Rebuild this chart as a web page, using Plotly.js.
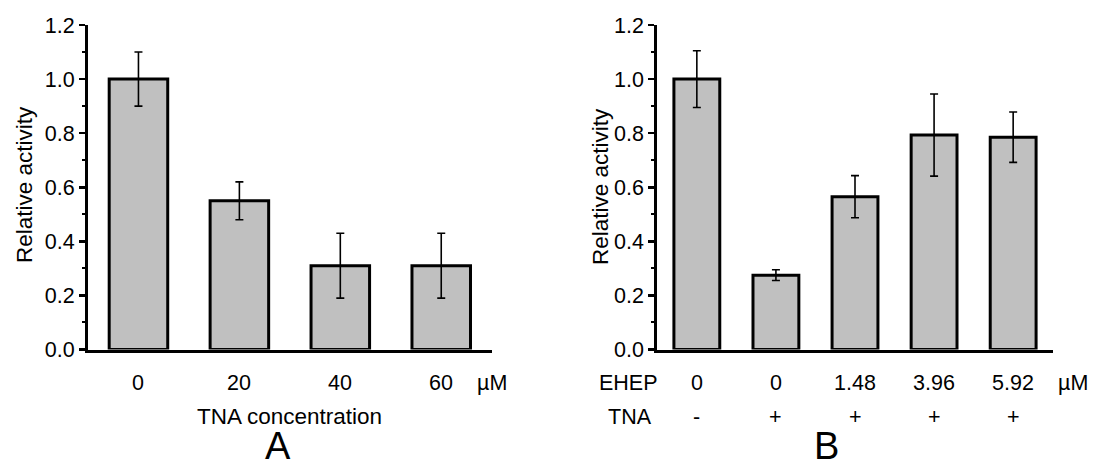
<!DOCTYPE html>
<html>
<head>
<meta charset="utf-8">
<script src="https://cdn.plot.ly/plotly-3.0.1.min.js"></script>
<style>html,body{margin:0;padding:0;background:#fff;}#chart{width:1108px;height:468px;}</style>
</head>
<body>
<div id="chart"></div>
<script>
// Panel A data
const tnaConc = ['0', '20', '40', '60'];
const activityA = [1.0, 0.55, 0.31, 0.31];
const errorA = [0.10, 0.07, 0.12, 0.12];

// Panel B data
const ehepConc = ['0', '0', '1.48', '3.96', '5.92'];
const tnaPresence = ['-', '+', '+', '+', '+'];
const activityB = [1.0, 0.275, 0.565, 0.793, 0.785];
const errorB = [0.105, 0.02, 0.078, 0.152, 0.093];

const W = 1108, H = 468;
const FONT = 'Liberation Sans, Arial, sans-serif';
const px = v => v / W;
const py = v => 1 - v / H;

const idxA = tnaConc.map((_, i) => i);
const idxB = ehepConc.map((_, i) => i);

const barStyle = {color: '#c0c0c0', line: {color: '#000', width: 3}};
const errStyle = (arr) => ({type: 'data', array: arr, visible: true, color: '#000', thickness: 1.6, width: 4});

const traces = [
  {type: 'bar', x: idxA, y: activityA, width: 0.58, marker: barStyle, error_y: errStyle(errorA), xaxis: 'x', yaxis: 'y', hoverinfo: 'skip'},
  {type: 'bar', x: idxB, y: activityB, width: 0.58, marker: barStyle, error_y: errStyle(errorB), xaxis: 'x2', yaxis: 'y2', hoverinfo: 'skip'}
];

const yAxisBase = {
  range: [0, 1.2], dtick: 0.2, tickformat: '.1f',
  showline: true, linewidth: 3, linecolor: '#000',
  ticks: 'outside', ticklen: 6, tickwidth: 2.5, tickcolor: '#000',
  minor: {dtick: 0.1, ticks: 'outside', ticklen: 3, tickwidth: 2, tickcolor: '#000'},
  showgrid: false, zeroline: false,
  tickfont: {family: FONT, size: 21.5, color: '#000'},
  domain: [py(349.5), py(25)]
};
const xAxisBase = {
  showline: true, linewidth: 3, linecolor: '#000',
  ticks: '', showticklabels: false, showgrid: false, zeroline: false
};

const lab = (size) => ({family: FONT, size: size, color: '#000'});
const TS = 21.5, TT = 22.5;
const annotations = [];
tnaConc.forEach((t, i) => annotations.push({xref: 'x', yref: 'paper', x: i, y: py(383), text: t, showarrow: false, font: lab(TS), xanchor: 'center', yanchor: 'middle'}));
annotations.push({xref: 'x', yref: 'paper', x: 3.5, y: py(383), text: 'µM', showarrow: false, font: lab(TS), xanchor: 'center', yanchor: 'middle'});
annotations.push({xref: 'x', yref: 'paper', x: 1.5, y: py(416.7), text: 'TNA concentration', showarrow: false, font: lab(TT), xanchor: 'center', yanchor: 'middle'});
annotations.push({xref: 'paper', yref: 'paper', x: px(278), y: 0, text: 'A', showarrow: false, font: lab(38), xanchor: 'center', yanchor: 'bottom', borderpad: 0});
annotations.push({xref: 'paper', yref: 'paper', x: px(25), y: py(185), text: 'Relative activity', textangle: -90, showarrow: false, font: lab(TT), xanchor: 'center', yanchor: 'middle'});

ehepConc.forEach((t, i) => annotations.push({xref: 'x2', yref: 'paper', x: i, y: py(383), text: t, showarrow: false, font: lab(TS), xanchor: 'center', yanchor: 'middle'}));
tnaPresence.forEach((t, i) => annotations.push({xref: 'x2', yref: 'paper', x: i, y: py(417), text: t, showarrow: false, font: lab(TS), xanchor: 'center', yanchor: 'middle'}));
annotations.push({xref: 'paper', yref: 'paper', x: px(628), y: py(383), text: 'EHEP', showarrow: false, font: lab(TS), xanchor: 'center', yanchor: 'middle'});
annotations.push({xref: 'paper', yref: 'paper', x: px(630), y: py(417), text: 'TNA', showarrow: false, font: lab(TS), xanchor: 'center', yanchor: 'middle'});
annotations.push({xref: 'paper', yref: 'paper', x: px(1073), y: py(383), text: 'µM', showarrow: false, font: lab(TS), xanchor: 'center', yanchor: 'middle'});
annotations.push({xref: 'paper', yref: 'paper', x: px(826), y: 0, text: 'B', showarrow: false, font: lab(38), xanchor: 'center', yanchor: 'bottom', borderpad: 0});
annotations.push({xref: 'paper', yref: 'paper', x: px(600), y: py(187), text: 'Relative activity', textangle: -90, showarrow: false, font: lab(TT), xanchor: 'center', yanchor: 'middle'});

const layout = {
  width: W, height: H,
  margin: {l: 0, r: 0, t: 0, b: 0, pad: 0},
  paper_bgcolor: '#fff', plot_bgcolor: '#fff',
  showlegend: false,
  font: {family: FONT, color: '#000'},
  xaxis: Object.assign({}, xAxisBase, {range: [-0.5, 3.5], domain: [px(88), px(491.7)], anchor: 'y'}),
  yaxis: Object.assign({}, yAxisBase, {anchor: 'x'}),
  xaxis2: Object.assign({}, xAxisBase, {range: [-0.5, 4.5], domain: [px(657.3), px(1052.7)], anchor: 'y2'}),
  yaxis2: Object.assign({}, yAxisBase, {anchor: 'x2'}),
  annotations: annotations
};

Plotly.newPlot('chart', traces, layout, {staticPlot: true, displayModeBar: false});
</script>
</body>
</html>
